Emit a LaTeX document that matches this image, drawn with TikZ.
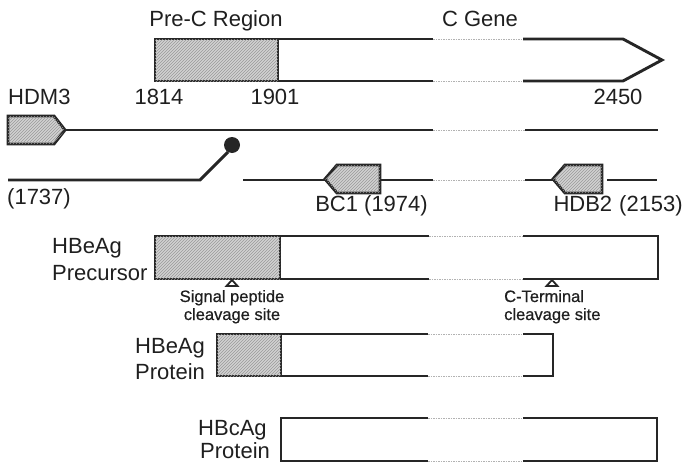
\documentclass[tikz,border=0pt]{standalone}
\usepackage{fontspec}
\setmainfont{Liberation Sans}
\newfontfamily\smallsans{Liberation Sans}[FakeBold=0.6]
\usetikzlibrary{patterns}
\begin{document}
\begin{tikzpicture}[x=1pt,y=-1pt,
  gl/.style={line width=2.9pt, line cap=butt, line join=miter, black!85},
  dl/.style={line width=0.9pt, gray!60, dash pattern=on 1.5pt off 1pt},
  hatch/.style={fill=gray!35, postaction={pattern=north east lines, pattern color=gray!80}},
  lbl/.style={font=\fontsize{22}{24}\selectfont, inner sep=0pt, text=black!88},
  sml/.style={font=\smallsans\fontsize{16.5}{18}\selectfont, inner sep=0pt, text=black!88},
  tri/.style={line width=1.8pt, black!85, fill=white, line join=miter},
]
\useasboundingbox (0,0) rectangle (685,463);

% Pre-C / C gene
\draw[gl,hatch] (155,39) rectangle (278,81);
\draw[gl] (278,39) -- (433,39);
\draw[dl] (433,39) -- (523,39);
\draw[gl] (523,39) -- (623,39) -- (662,60) -- (623,81) -- (523,81);
\draw[dl] (433,81) -- (523,81);
\draw[gl] (433,81) -- (278,81);

% HDM3 line
\draw[gl,hatch] (8,116) -- (54,116) -- (65,130) -- (54,144) -- (8,144) -- cycle;
\draw[gl] (65,130) -- (433,130);
\draw[dl] (433,130) -- (525,130);
\draw[gl] (525,130) -- (658,130);

% lower line
\draw[gl] (8,180) -- (200,180) -- (228,152);
\fill[black!85] (232,145) circle (8);
\draw[gl] (243,180) -- (325,180);
\draw[gl,hatch] (325,179) -- (337,165) -- (380,165) -- (380,193) -- (337,193) -- cycle;
\draw[gl] (380,180) -- (433,180);
\draw[dl] (433,180) -- (525,180);
\draw[gl] (525,180) -- (553,180);
\draw[gl,hatch] (553,179) -- (565,165) -- (602,165) -- (602,193) -- (565,193) -- cycle;
\draw[gl] (607,180) -- (657,180);

% HBeAg precursor
\draw[gl,hatch] (155,236) rectangle (280,279);
\draw[gl] (280,236) -- (429,236);
\draw[dl] (429,236) -- (523,236);
\draw[gl] (523,236) -- (658,236) -- (658,279) -- (523,279);
\draw[dl] (429,279) -- (523,279);
\draw[gl] (429,279) -- (280,279);
\draw[tri] (226.5,286) -- (232,280) -- (237.5,286) -- cycle;
\draw[tri] (546.5,286) -- (552,280) -- (557.5,286) -- cycle;

% HBeAg protein
\draw[gl,hatch] (217,334) rectangle (281,376);
\draw[gl] (281,334) -- (428,334);
\draw[dl] (428,334) -- (523,334);
\draw[gl] (523,334) -- (553,334) -- (553,376) -- (523,376);
\draw[dl] (428,376) -- (523,376);
\draw[gl] (428,376) -- (281,376);

% HBcAg protein
\draw[gl] (428,418) -- (281,418) -- (281,461) -- (428,461);
\draw[dl] (428,418) -- (523,418);
\draw[dl] (428,461) -- (523,461);
\draw[gl] (523,418) -- (657,418) -- (657,461) -- (523,461);

% labels
\node[lbl, anchor=base] (prec) at (216,27) {Pre-C Region};
\node[lbl, anchor=base] (cgene) at (480,26) {C Gene};
\node[lbl, anchor=base] (n1814) at (159,104) {1814};
\node[lbl, anchor=base] (n1901) at (275,104) {1901};
\node[lbl, anchor=base] (n2450) at (618,104) {2450};
\node[lbl, anchor=base west] (hdm3) at (8,104) {HDM3};
\node[lbl, anchor=base west] (n1737) at (7,204) {(1737)};
\node[lbl, anchor=base east] (bc1) at (428,211) {BC1 (1974)};
\node[lbl, anchor=base east] (hdb2) at (683,211) {HDB2\hspace{7pt}(2153)};
\node[lbl, anchor=base west] (pre1) at (52,253) {HBeAg};
\node[lbl, anchor=base west] (pre2) at (52,280) {Precursor};
\node[sml, anchor=base] (sp1) at (232,302) {Signal peptide};
\node[sml, anchor=base] (sp2) at (232,320) {cleavage site};
\node[sml, anchor=base west] (ct1) at (504,302) {C-Terminal};
\node[sml, anchor=base west] (ct2) at (504,320) {cleavage site};
\node[lbl, anchor=base west] (ep1) at (135,353) {HBeAg};
\node[lbl, anchor=base west] (ep2) at (135,379) {Protein};
\node[lbl, anchor=base west] (cp1) at (198,435) {HBcAg};
\node[lbl, anchor=base west] (cp2) at (200,458.5) {Protein};
\end{tikzpicture}
\end{document}
